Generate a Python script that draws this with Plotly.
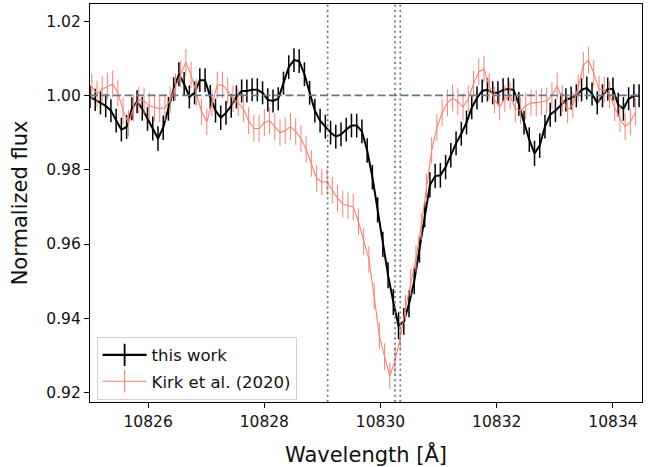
import plotly.graph_objects as go

# ---- data: "this work" ----
work_wl = [10825.00, 10825.09, 10825.18, 10825.27, 10825.36, 10825.45, 10825.54, 10825.63, 10825.72, 10825.81,
           10825.90, 10825.99, 10826.08, 10826.17, 10826.26, 10826.35, 10826.44, 10826.53, 10826.62, 10826.71,
           10826.80, 10826.89, 10826.98, 10827.07, 10827.16, 10827.25, 10827.34, 10827.43, 10827.52, 10827.61,
           10827.70, 10827.79, 10827.88, 10827.97, 10828.06, 10828.15, 10828.24, 10828.33, 10828.42, 10828.51,
           10828.60, 10828.69, 10828.78, 10828.87, 10828.96, 10829.05, 10829.14, 10829.23, 10829.32, 10829.41,
           10829.50, 10829.59, 10829.68, 10829.77, 10829.86, 10829.95, 10830.04, 10830.13, 10830.22, 10830.31,
           10830.40, 10830.49, 10830.58, 10830.67, 10830.76, 10830.85, 10830.94, 10831.03, 10831.12, 10831.21,
           10831.30, 10831.39, 10831.48, 10831.57, 10831.66, 10831.75, 10831.84, 10831.93, 10832.02, 10832.11,
           10832.20, 10832.29, 10832.38, 10832.47, 10832.56, 10832.65, 10832.74, 10832.83, 10832.92, 10833.01,
           10833.10, 10833.19, 10833.28, 10833.37, 10833.46, 10833.55, 10833.64, 10833.73, 10833.82, 10833.91,
           10834.00, 10834.09, 10834.18, 10834.27, 10834.36, 10834.45]
work_flux = [0.9996, 0.9988, 0.9980, 0.9972, 0.9959, 0.9932, 0.9908, 0.9915, 0.9964, 0.9983,
             0.9964, 0.9937, 0.9911, 0.9884, 0.9913, 0.9964, 1.0017, 1.0057, 1.0031, 0.9996,
             1.0007, 1.0041, 1.0041, 0.9996, 0.9959, 0.9940, 0.9953, 0.9972, 0.9996, 1.0012,
             1.0012, 1.0015, 1.0015, 1.0007, 0.9988, 0.9985, 0.9991, 1.0033, 1.0076, 1.0095,
             1.0092, 1.0057, 1.0007, 0.9959, 0.9932, 0.9916, 0.9900, 0.9889, 0.9895, 0.9908,
             0.9919, 0.9919, 0.9903, 0.9852, 0.9780, 0.9692, 0.9599, 0.9516, 0.9444, 0.9380,
             0.9392, 0.9439, 0.9500, 0.9585, 0.9679, 0.9759, 0.9783, 0.9785, 0.9807, 0.9839,
             0.9871, 0.9897, 0.9927, 0.9967, 0.9993, 1.0012, 1.0015, 1.0007, 1.0007, 1.0015,
             1.0017, 1.0015, 0.9977, 0.9927, 0.9881, 0.9844, 0.9865, 0.9916, 0.9948, 0.9959,
             0.9975, 0.9988, 0.9993, 0.9999, 1.0015, 1.0020, 1.0004, 0.9980, 0.9999, 1.0017,
             1.0017, 0.9975, 0.9964, 0.9991, 0.9999, 0.9999]
work_err = [0.0030, 0.0030, 0.0031, 0.0031, 0.0031, 0.0032, 0.0032, 0.0032, 0.0031, 0.0031,
            0.0032, 0.0032, 0.0032, 0.0033, 0.0033, 0.0032, 0.0032, 0.0032, 0.0032, 0.0031,
            0.0031, 0.0032, 0.0032, 0.0032, 0.0032, 0.0033, 0.0032, 0.0032, 0.0031, 0.0031,
            0.0031, 0.0031, 0.0031, 0.0031, 0.0031, 0.0031, 0.0031, 0.0031, 0.0032, 0.0032,
            0.0032, 0.0032, 0.0032, 0.0032, 0.0032, 0.0032, 0.0032, 0.0032, 0.0032, 0.0032,
            0.0032, 0.0032, 0.0032, 0.0033, 0.0033, 0.0034, 0.0034, 0.0035, 0.0035, 0.0036,
            0.0036, 0.0036, 0.0035, 0.0035, 0.0034, 0.0034, 0.0033, 0.0033, 0.0033, 0.0033,
            0.0032, 0.0032, 0.0032, 0.0031, 0.0031, 0.0031, 0.0031, 0.0031, 0.0031, 0.0031,
            0.0031, 0.0031, 0.0032, 0.0032, 0.0033, 0.0034, 0.0033, 0.0032, 0.0032, 0.0031,
            0.0031, 0.0031, 0.0031, 0.0031, 0.0031, 0.0031, 0.0031, 0.0031, 0.0031, 0.0031,
            0.0031, 0.0032, 0.0032, 0.0031, 0.0031, 0.0031]

# ---- data: Kirk et al. (2020) ----
kirk_wl = [10825.03, 10825.12, 10825.21, 10825.30, 10825.39, 10825.48, 10825.57, 10825.66, 10825.75, 10825.84,
           10825.93, 10826.02, 10826.11, 10826.20, 10826.29, 10826.38, 10826.47, 10826.56, 10826.65, 10826.74,
           10826.83, 10826.92, 10827.01, 10827.10, 10827.19, 10827.28, 10827.37, 10827.46, 10827.55, 10827.64,
           10827.73, 10827.82, 10827.91, 10828.00, 10828.09, 10828.18, 10828.27, 10828.36, 10828.45, 10828.54,
           10828.63, 10828.72, 10828.81, 10828.90, 10828.99, 10829.08, 10829.17, 10829.26, 10829.35, 10829.44,
           10829.53, 10829.62, 10829.71, 10829.80, 10829.89, 10829.98, 10830.07, 10830.16, 10830.25, 10830.34,
           10830.43, 10830.52, 10830.61, 10830.70, 10830.79, 10830.88, 10830.97, 10831.06, 10831.15, 10831.24,
           10831.33, 10831.42, 10831.51, 10831.60, 10831.69, 10831.78, 10831.87, 10831.96, 10832.05, 10832.14,
           10832.23, 10832.32, 10832.41, 10832.50, 10832.59, 10832.68, 10832.77, 10832.86, 10832.95, 10833.04,
           10833.13, 10833.22, 10833.31, 10833.40, 10833.49, 10833.58, 10833.67, 10833.76, 10833.85, 10833.94,
           10834.03, 10834.12, 10834.21, 10834.30, 10834.39]
kirk_flux = [1.0023, 1.0004, 1.0017, 1.0025, 1.0031, 1.0007, 0.9959, 0.9925, 0.9967, 0.9988,
             0.9985, 0.9972, 0.9967, 0.9964, 0.9967, 0.9988, 1.0023, 1.0057, 1.0089, 1.0055,
             1.0007, 0.9956, 0.9929, 0.9980, 1.0028, 1.0028, 1.0012, 0.9991, 0.9980, 0.9964,
             0.9932, 0.9911, 0.9911, 0.9927, 0.9932, 0.9916, 0.9900, 0.9905, 0.9916, 0.9903,
             0.9884, 0.9855, 0.9817, 0.9777, 0.9767, 0.9767, 0.9745, 0.9724, 0.9708, 0.9703,
             0.9700, 0.9660, 0.9607, 0.9559, 0.9460, 0.9353, 0.9297, 0.9245, 0.9287, 0.9348,
             0.9428, 0.9497, 0.9561, 0.9647, 0.9753, 0.9852, 0.9913, 0.9953, 0.9980, 0.9993,
             0.9983, 0.9969, 0.9991, 1.0031, 1.0063, 1.0071, 1.0025, 0.9988, 0.9969, 0.9991,
             0.9999, 0.9964, 0.9959, 0.9972, 0.9980, 0.9980, 0.9983, 0.9985, 0.9999, 1.0025,
             0.9991, 0.9961, 0.9975, 1.0020, 1.0081, 1.0095, 1.0060, 1.0017, 1.0015, 1.0001,
             0.9967, 0.9937, 0.9916, 0.9929, 0.9956]
kirk_err = [0.0036, 0.0036, 0.0036, 0.0036, 0.0036, 0.0036, 0.0036, 0.0036, 0.0036, 0.0036,
            0.0036, 0.0036, 0.0036, 0.0036, 0.0036, 0.0036, 0.0036, 0.0036, 0.0036, 0.0036,
            0.0036, 0.0036, 0.0036, 0.0036, 0.0036, 0.0036, 0.0036, 0.0036, 0.0036, 0.0036,
            0.0036, 0.0036, 0.0036, 0.0036, 0.0036, 0.0036, 0.0036, 0.0036, 0.0036, 0.0036,
            0.0036, 0.0036, 0.0036, 0.0036, 0.0036, 0.0036, 0.0036, 0.0036, 0.0036, 0.0036,
            0.0036, 0.0036, 0.0036, 0.0036, 0.0036, 0.0036, 0.0036, 0.0036, 0.0036, 0.0036,
            0.0036, 0.0036, 0.0036, 0.0036, 0.0036, 0.0036, 0.0036, 0.0036, 0.0036, 0.0036,
            0.0036, 0.0036, 0.0036, 0.0036, 0.0036, 0.0036, 0.0036, 0.0036, 0.0036, 0.0036,
            0.0036, 0.0036, 0.0036, 0.0036, 0.0036, 0.0036, 0.0036, 0.0036, 0.0036, 0.0036,
            0.0036, 0.0036, 0.0036, 0.0036, 0.0036, 0.0036, 0.0036, 0.0036, 0.0036, 0.0036,
            0.0036, 0.0036, 0.0036, 0.0036, 0.0036]

# He I triplet line positions and continuum level
line_positions = [10829.09, 10830.25, 10830.34]
continuum = 1.0

x_ticks = [10826, 10828, 10830, 10832, 10834]
y_ticks = [0.92, 0.94, 0.96, 0.98, 1.00, 1.02]

ref_color = "#66768c"
salmon = "#fa8072"
font_family = "DejaVu Sans"
text_color = "#111111"

fig = go.Figure()
fig.add_trace(go.Scatter(
    x=work_wl, y=work_flux, mode="lines", name="this work", showlegend=False,
    line=dict(color="black", width=2),
    error_y=dict(type="data", array=work_err, color="black", thickness=1.5, width=0),
))
fig.add_trace(go.Scatter(
    x=kirk_wl, y=kirk_flux, mode="lines", name="Kirk et al. (2020)", showlegend=False,
    line=dict(color=salmon, width=1.1),
    error_y=dict(type="data", array=kirk_err, color=salmon, thickness=1, width=0),
))
# legend handles (errorbar-style: line with a vertical bar)
fig.add_trace(go.Scatter(
    x=[None], y=[None], mode="lines+markers", name="this work", legendgroup="a",
    line=dict(color="black", width=2.2),
    marker=dict(symbol="line-ns", size=16, line=dict(color="black", width=1.8)),
))
fig.add_trace(go.Scatter(
    x=[None], y=[None], mode="lines+markers", name="Kirk et al. (2020)", legendgroup="b",
    line=dict(color=salmon, width=1.1),
    marker=dict(symbol="line-ns", size=16, line=dict(color=salmon, width=1.1)),
))

fig.add_hline(y=continuum, line=dict(color=ref_color, width=1.6, dash="8px,3.5px"), layer="above")
for lp in line_positions:
    fig.add_vline(x=lp, line=dict(color=ref_color, width=1.7, dash="2px,3.2px"), layer="above")

fig.update_layout(
    width=655, height=467,
    margin=dict(l=90, r=13, t=3, b=63),
    paper_bgcolor="white", plot_bgcolor="white",
    font=dict(family=font_family, size=15.5, color=text_color),
    showlegend=True,
    legend=dict(
        x=0.012, y=0.006, xanchor="left", yanchor="bottom",
        bgcolor="rgba(255,255,255,0.8)", bordercolor="#d0d0d0", borderwidth=1,
        font=dict(size=16.5, family=font_family, color=text_color),
        tracegroupgap=2, itemwidth=44,
    ),
    xaxis=dict(
        range=[10825.0, 10834.5], tickvals=x_ticks, ticktext=[str(v) for v in x_ticks],
        showgrid=False, zeroline=False, showline=True, linecolor="black", linewidth=1.2,
        mirror=True, ticks="outside", ticklen=5, tickwidth=1, tickcolor="black",
        tickfont=dict(size=15.5, family=font_family, color=text_color),
        title=dict(text="Wavelength [Å]", font=dict(size=21, family=font_family, color=text_color), standoff=19),
    ),
    yaxis=dict(
        range=[0.9175, 1.0246], tickvals=y_ticks, ticktext=[f"{v:.2f}" for v in y_ticks],
        showgrid=False, zeroline=False, showline=True, linecolor="black", linewidth=1.2,
        mirror=True, ticks="outside", ticklen=5, tickwidth=1, tickcolor="black",
        tickfont=dict(size=15.5, family=font_family, color=text_color),
        title=dict(text="Normalized flux", font=dict(size=21, family=font_family, color=text_color), standoff=12),
    ),
)

fig.write_html("out.html")
